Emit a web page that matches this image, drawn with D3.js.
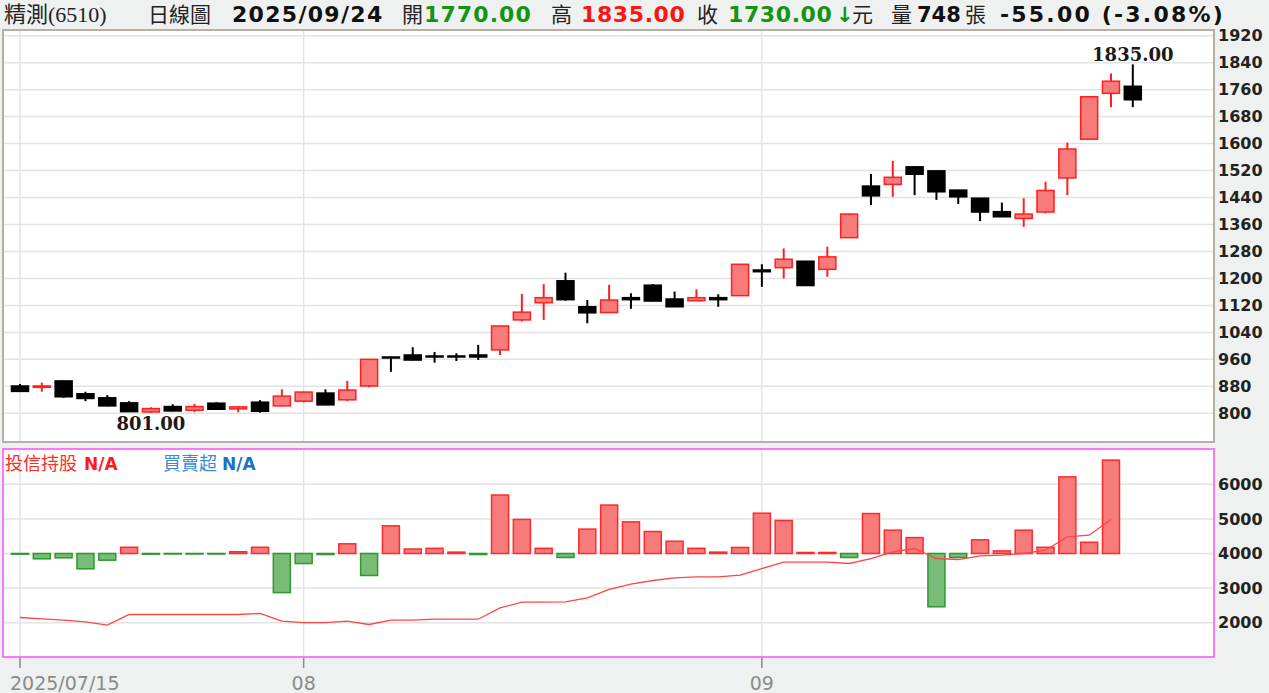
<!DOCTYPE html>
<html>
<head>
<meta charset="utf-8">
<script src="https://cdn.jsdelivr.net/npm/d3@7"></script>
<style>
  body { margin: 0; background: #eff1f0; }
  svg { display: block; }
  .num { font-family: "DejaVu Sans", sans-serif; font-weight: bold; }
  .cjk { font-family: "Liberation Serif", "Noto Sans CJK TC", serif; }
</style>
</head>
<body>
<div id="chart"></div>
<script>
// data
var dates = ["2025/07/15","2025/07/16","2025/07/17","2025/07/18","2025/07/21","2025/07/22","2025/07/23","2025/07/24","2025/07/25","2025/07/28","2025/07/29","2025/07/30","2025/07/31",
  "2025/08/01","2025/08/04","2025/08/05","2025/08/06","2025/08/07","2025/08/08","2025/08/11","2025/08/12","2025/08/13","2025/08/14","2025/08/15","2025/08/18","2025/08/19","2025/08/20","2025/08/21","2025/08/22","2025/08/25","2025/08/26","2025/08/27","2025/08/28","2025/08/29",
  "2025/09/01","2025/09/02","2025/09/03","2025/09/04","2025/09/05","2025/09/08","2025/09/09","2025/09/10","2025/09/11","2025/09/12","2025/09/15","2025/09/16","2025/09/17","2025/09/18","2025/09/19","2025/09/22","2025/09/23","2025/09/24"];
var open  = [881,877,896,858,846,831,804,820,809,830,813,833,822,836,860,840,881,967,973,970,970,973,988,1077,1128,1193,1116,1099,1143,1180,1139,1134,1143,1149,1225,1232,1251,1227,1321,1474,1479,1531,1519,1462,1438,1398,1378,1397,1498,1613,1749,1770];
var high  = [887,891,897,864,854,836,818,827,828,833,821,839,871,864,871,896,961,968,996,982,978,1003,1060,1154,1183,1217,1136,1181,1156,1183,1161,1168,1153,1243,1242,1289,1252,1294,1392,1510,1549,1532,1520,1463,1439,1425,1438,1487,1603,1740,1808,1835];
var low   = [864,864,846,836,821,804,801,806,803,811,803,802,821,832,824,836,877,923,957,950,955,958,973,1072,1077,1134,1067,1098,1110,1132,1115,1133,1116,1148,1175,1200,1178,1205,1320,1418,1442,1447,1433,1421,1370,1382,1353,1393,1447,1612,1708,1708];
var close = [865,881,849,844,822,805,814,807,820,812,819,806,851,863,825,869,960,966,958,967,968,967,1059,1100,1143,1137,1098,1136,1137,1133,1116,1143,1137,1242,1220,1257,1179,1264,1391,1445,1500,1509,1457,1442,1397,1383,1391,1461,1584,1739,1785,1730];
// 投信持股 (line) and 買賣超 (bars), last day N/A
var holding = [2150,2110,2072,2023,1930,2237,2237,2237,2237,2237,2237,2266,2043,2005,2005,2043,1948,2072,2072,2101,2101,2101,2428,2592,2592,2600,2717,2960,3113,3220,3295,3324,3324,3373,3566,3750,3750,3750,3711,3855,4046,4144,3855,3826,3931,3951,4000,4095,4480,4529,4983,null];
var netBuy = [-20,-153,-125,-443,-193,180,-20,-15,-15,-15,50,180,-1130,-290,-30,280,-636,800,130,150,40,-30,1690,985,150,-115,705,1400,915,635,355,150,40,175,1165,955,30,30,-115,1155,675,460,-1540,-115,395,75,675,180,2215,325,2700,null];
var volume = 748;
var priceTicks = [800,880,960,1040,1120,1200,1280,1360,1440,1520,1600,1680,1760,1840,1920];
var lowerTicks = [2000,3000,4000,5000,6000];
var monthTicks = [["2025/07/15","2025/07/15"],["2025/08/01","08"],["2025/09/01","09"]];

var width = 1269, height = 693;
var left = 3, right = 1214;
var svg = d3.select("#chart").append("svg").attr("width", width).attr("height", height);

var x = d3.scalePoint().domain(dates).range([20, 1132.8]);
var y = d3.scaleLinear().domain([800, 1920]).range([413.3, 35.7]);
var y2 = d3.scaleLinear().domain([2000, 6000]).range([622.7, 484.3]);
var yBar = d3.scaleLinear().domain([-3000, 3000]).range([y2(1000), y2(7000)]);
var bw = 17;

var data = dates.map(function(d, i) {
  return {date: d, o: open[i], h: high[i], l: low[i], c: close[i], hold: holding[i], net: netBuy[i]};
});

//header
var head = svg.append("g").attr("transform", "translate(0,22)");
function htext(t, px, cls, col, size, ls) {
  head.append("text").attr("x", px).attr("class", cls).attr("fill", col)
    .attr("font-size", size).attr("letter-spacing", ls || 0).text(t);
}
var last = data[data.length - 1], prev = data[data.length - 2];
var chg = last.c - prev.c;
htext("精測(6510)", 4, "cjk", "#222", 22);
htext("日線圖", 148, "cjk", "#222", 21);
htext(last.date, 232, "num", "#111", 22, 1.3);
htext("開", 402, "cjk", "#222", 21);
htext(last.o.toFixed(2), 424, "num", "#129612", 22, 1.1);
htext("高", 551, "cjk", "#222", 21);
htext(last.h.toFixed(2), 581, "num", "#ff1414", 22, 0.6);
htext("收", 697, "cjk", "#222", 21);
htext(last.c.toFixed(2), 728, "num", "#129612", 22, 0.6);
htext("↓", 836, "num", "#129612", 21);
htext("元", 852, "cjk", "#222", 21);
htext("量", 891, "cjk", "#222", 21);
htext(volume, 917, "num", "#111", 21);
htext("張", 965, "cjk", "#222", 21);
htext(chg.toFixed(2) + " (" + (chg / prev.c * 100).toFixed(2) + "%)", 1000, "num", "#111", 22, 2.2);

//upper panel
var upper = svg.append("g");
upper.append("rect").attr("x", left).attr("y", 30).attr("width", right - left).attr("height", 412)
  .attr("fill", "white").attr("stroke", "#b7aea5").attr("stroke-width", 2);
upper.selectAll(".hg").data(priceTicks).enter().append("line")
  .attr("x1", left + 1).attr("x2", right - 1)
  .attr("y1", function(d) { return y(d); }).attr("y2", function(d) { return y(d); })
  .attr("stroke", "#e3e3e3").attr("stroke-width", 1.5);
upper.selectAll(".vg").data(monthTicks).enter().append("line")
  .attr("x1", function(d) { return x(d[0]); }).attr("x2", function(d) { return x(d[0]); })
  .attr("y1", 31).attr("y2", 441).attr("stroke", "#e3e3e3").attr("stroke-width", 1.5);
upper.selectAll(".pl").data(priceTicks).enter().append("text")
  .attr("class", "num").attr("x", 1218).attr("y", function(d) { return y(d); })
  .attr("dy", "0.36em").attr("font-size", 16).attr("fill", "#222").text(function(d) { return d; });

function col(d) { return d.c >= d.o ? "#ff1f1f" : "#000"; }
var candles = upper.selectAll(".candle").data(data).enter().append("g");
candles.append("line")
  .attr("x1", function(d) { return x(d.date); }).attr("x2", function(d) { return x(d.date); })
  .attr("y1", function(d) { return y(d.h); }).attr("y2", function(d) { return y(d.l); })
  .attr("stroke", col).attr("stroke-width", 2);
candles.append("rect")
  .attr("x", function(d) { return x(d.date) - bw / 2; })
  .attr("y", function(d) { return y(Math.max(d.o, d.c)); })
  .attr("width", bw)
  .attr("height", function(d) { return Math.max(1, Math.abs(y(d.o) - y(d.c))); })
  .attr("fill", function(d) { return d.c >= d.o ? "#f77b7b" : "#000"; })
  .attr("stroke", col).attr("stroke-width", 1.5);

// high / low labels
var hi = data.reduce(function(a, b) { return b.h > a.h ? b : a; });
var lo = data.reduce(function(a, b) { return b.l < a.l ? b : a; });
upper.append("text").attr("x", x(lo.date)).attr("y", y(lo.l) + 17).attr("text-anchor", "middle")
  .attr("font-family", "DejaVu Serif").attr("font-weight", "bold").attr("font-size", 18)
  .attr("fill", "#1a1a1a").text(lo.l.toFixed(2));
upper.append("text").attr("x", x(hi.date)).attr("y", y(hi.h) - 3).attr("text-anchor", "middle")
  .attr("font-family", "DejaVu Serif").attr("font-weight", "bold").attr("font-size", 18)
  .attr("fill", "#1a1a1a").text(hi.h.toFixed(2));

//lower panel
var bot = svg.append("g");
bot.append("rect").attr("x", left).attr("y", 449).attr("width", right - left).attr("height", 208)
  .attr("fill", "white").attr("stroke", "#ff4cff").attr("stroke-width", 1.5);
bot.selectAll(".hg").data(lowerTicks).enter().append("line")
  .attr("x1", left + 1).attr("x2", right - 1)
  .attr("y1", function(d) { return y2(d); }).attr("y2", function(d) { return y2(d); })
  .attr("stroke", "#e3e3e3").attr("stroke-width", 1.5);
bot.selectAll(".vg").data(monthTicks).enter().append("line")
  .attr("x1", function(d) { return x(d[0]); }).attr("x2", function(d) { return x(d[0]); })
  .attr("y1", 450).attr("y2", 656).attr("stroke", "#e3e3e3").attr("stroke-width", 1.5);
bot.selectAll(".ll").data(lowerTicks).enter().append("text")
  .attr("class", "num").attr("x", 1218).attr("y", function(d) { return y2(d); })
  .attr("dy", "0.36em").attr("font-size", 16).attr("fill", "#222").text(function(d) { return d; });

var withNet = data.filter(function(d) { return d.net != null; });
bot.selectAll(".bar").data(withNet).enter().append("rect")
  .attr("x", function(d) { return x(d.date) - bw / 2; })
  .attr("y", function(d) { return Math.min(yBar(0), yBar(d.net)); })
  .attr("width", bw)
  .attr("height", function(d) { return Math.max(0.5, Math.abs(yBar(d.net) - yBar(0))); })
  .attr("fill", function(d) { return d.net >= 0 ? "#f77b7b" : "#77bd77"; })
  .attr("stroke", function(d) { return d.net >= 0 ? "#ff2b2b" : "#2f982f"; })
  .attr("stroke-width", 1.5);

var line = d3.line()
  .defined(function(d) { return d.hold != null; })
  .x(function(d) { return x(d.date); })
  .y(function(d) { return y2(d.hold); });
bot.append("path").attr("d", line(data)).attr("fill", "none")
  .attr("stroke", "#ff4444").attr("stroke-width", 1.3);

// legend
var leg = bot.append("g").attr("transform", "translate(0,470)");
leg.append("text").attr("x", 5).attr("font-family", "Noto Sans CJK TC").attr("font-size", 18)
  .attr("fill", "#ff2a2a").text("投信持股");
leg.append("text").attr("x", 84).attr("class", "num").attr("font-size", 17)
  .attr("fill", "#ff1a1a").text("N/A");
leg.append("text").attr("x", 163).attr("font-family", "Noto Sans CJK TC").attr("font-size", 18)
  .attr("fill", "#3b8ad4").text("買賣超");
leg.append("text").attr("x", 222).attr("class", "num").attr("font-size", 17)
  .attr("fill", "#1a72c6").text("N/A");

// x axis
var ax = svg.selectAll(".tick").data(monthTicks).enter().append("g");
ax.append("line")
  .attr("x1", function(d) { return x(d[0]); }).attr("x2", function(d) { return x(d[0]); })
  .attr("y1", 658).attr("y2", 668).attr("stroke", "#8a8a8a").attr("stroke-width", 1.5);
ax.append("text")
  .attr("x", function(d) { return x(d[0]); }).attr("y", 690)
  .attr("text-anchor", function(d, i) { return i == 0 ? "start" : "middle"; })
  .attr("dx", function(d, i) { return i == 0 ? -10 : 0; })
  .attr("font-family", "DejaVu Sans").attr("font-size", 19).attr("fill", "#8a8a8a")
  .text(function(d) { return d[1]; });
</script>
</body>
</html>
